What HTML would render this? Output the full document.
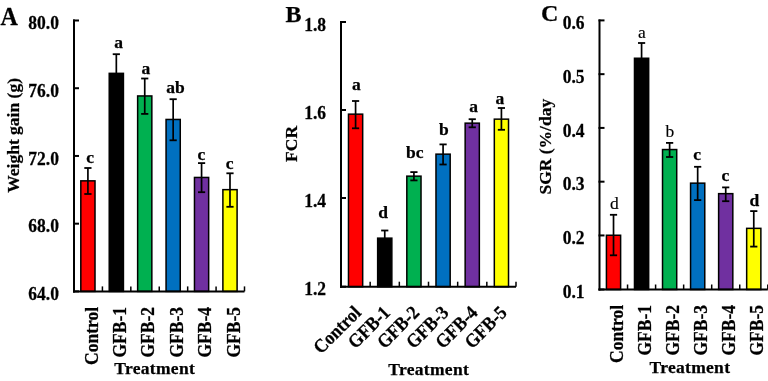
<!DOCTYPE html>
<html><head><meta charset="utf-8"><style>
html,body{margin:0;padding:0;background:#fff;width:768px;height:381px;overflow:hidden}
svg{display:block;will-change:transform}
text{font-family:"Liberation Serif",serif;fill:#000}
</style></head><body>
<svg width="768" height="381" viewBox="0 0 768 381">
<rect x="80.81" y="180.85" width="14.20" height="110.55" fill="#ff0000" stroke="#000" stroke-width="1.5"/>
<line x1="87.91" y1="168.00" x2="87.91" y2="194.00" stroke="#000" stroke-width="1.7"/>
<line x1="84.31" y1="168.00" x2="91.51" y2="168.00" stroke="#000" stroke-width="1.8"/>
<line x1="84.31" y1="194.00" x2="91.51" y2="194.00" stroke="#000" stroke-width="1.8"/>
<text transform="translate(90.20 162.60)" font-size="17.5" text-anchor="middle" font-weight="bold" stroke="#000" stroke-width="0.25">c</text>
<rect x="109.23" y="73.35" width="14.20" height="218.05" fill="#000000" stroke="#000" stroke-width="1.5"/>
<line x1="116.33" y1="54.20" x2="116.33" y2="92.80" stroke="#000" stroke-width="1.7"/>
<line x1="112.73" y1="54.20" x2="119.92" y2="54.20" stroke="#000" stroke-width="1.8"/>
<line x1="112.73" y1="92.80" x2="119.92" y2="92.80" stroke="#000" stroke-width="1.8"/>
<text transform="translate(118.50 47.90)" font-size="17.5" text-anchor="middle" font-weight="bold" stroke="#000" stroke-width="0.25">a</text>
<rect x="137.64" y="95.95" width="14.20" height="195.45" fill="#00b050" stroke="#000" stroke-width="1.5"/>
<line x1="144.74" y1="78.50" x2="144.74" y2="113.90" stroke="#000" stroke-width="1.7"/>
<line x1="141.14" y1="78.50" x2="148.34" y2="78.50" stroke="#000" stroke-width="1.8"/>
<line x1="141.14" y1="113.90" x2="148.34" y2="113.90" stroke="#000" stroke-width="1.8"/>
<text transform="translate(145.90 74.20)" font-size="17.5" text-anchor="middle" font-weight="bold" stroke="#000" stroke-width="0.25">a</text>
<rect x="166.06" y="119.45" width="14.20" height="171.95" fill="#0070c0" stroke="#000" stroke-width="1.5"/>
<line x1="173.16" y1="99.20" x2="173.16" y2="140.30" stroke="#000" stroke-width="1.7"/>
<line x1="169.56" y1="99.20" x2="176.76" y2="99.20" stroke="#000" stroke-width="1.8"/>
<line x1="169.56" y1="140.30" x2="176.76" y2="140.30" stroke="#000" stroke-width="1.8"/>
<text transform="translate(175.50 92.50)" font-size="17.5" text-anchor="middle" font-weight="bold" stroke="#000" stroke-width="0.25">ab</text>
<rect x="194.47" y="177.45" width="14.20" height="113.95" fill="#7030a0" stroke="#000" stroke-width="1.5"/>
<line x1="201.57" y1="163.10" x2="201.57" y2="192.20" stroke="#000" stroke-width="1.7"/>
<line x1="197.97" y1="163.10" x2="205.17" y2="163.10" stroke="#000" stroke-width="1.8"/>
<line x1="197.97" y1="192.20" x2="205.17" y2="192.20" stroke="#000" stroke-width="1.8"/>
<text transform="translate(201.30 160.10)" font-size="17.5" text-anchor="middle" font-weight="bold" stroke="#000" stroke-width="0.25">c</text>
<rect x="222.89" y="189.65" width="14.20" height="101.75" fill="#ffff00" stroke="#000" stroke-width="1.5"/>
<line x1="229.99" y1="173.30" x2="229.99" y2="206.80" stroke="#000" stroke-width="1.7"/>
<line x1="226.39" y1="173.30" x2="233.59" y2="173.30" stroke="#000" stroke-width="1.8"/>
<line x1="226.39" y1="206.80" x2="233.59" y2="206.80" stroke="#000" stroke-width="1.8"/>
<text transform="translate(229.70 169.10)" font-size="17.5" text-anchor="middle" font-weight="bold" stroke="#000" stroke-width="0.25">c</text>
<line x1="74.00" y1="19.50" x2="74.00" y2="292.40" stroke="#000" stroke-width="2"/>
<line x1="73.00" y1="291.40" x2="244.50" y2="291.40" stroke="#000" stroke-width="2"/>
<line x1="73.00" y1="20.50" x2="79.00" y2="20.50" stroke="#000" stroke-width="2"/>
<text transform="translate(58.90 29.20) scale(1.0 1.03)" font-size="17.5" text-anchor="end" font-weight="bold" stroke="#000" stroke-width="0.25">80.0</text>
<line x1="73.00" y1="88.22" x2="79.00" y2="88.22" stroke="#000" stroke-width="2"/>
<text transform="translate(58.90 96.92) scale(1.0 1.03)" font-size="17.5" text-anchor="end" font-weight="bold" stroke="#000" stroke-width="0.25">76.0</text>
<line x1="73.00" y1="155.95" x2="79.00" y2="155.95" stroke="#000" stroke-width="2"/>
<text transform="translate(58.90 164.65) scale(1.0 1.03)" font-size="17.5" text-anchor="end" font-weight="bold" stroke="#000" stroke-width="0.25">72.0</text>
<line x1="73.00" y1="223.67" x2="79.00" y2="223.67" stroke="#000" stroke-width="2"/>
<text transform="translate(58.90 232.37) scale(1.0 1.03)" font-size="17.5" text-anchor="end" font-weight="bold" stroke="#000" stroke-width="0.25">68.0</text>
<line x1="73.00" y1="291.40" x2="79.00" y2="291.40" stroke="#000" stroke-width="2"/>
<text transform="translate(58.90 300.10) scale(1.0 1.03)" font-size="17.5" text-anchor="end" font-weight="bold" stroke="#000" stroke-width="0.25">64.0</text>
<line x1="102.42" y1="291.40" x2="102.42" y2="286.40" stroke="#000" stroke-width="1.5"/>
<line x1="130.83" y1="291.40" x2="130.83" y2="286.40" stroke="#000" stroke-width="1.5"/>
<line x1="159.25" y1="291.40" x2="159.25" y2="286.40" stroke="#000" stroke-width="1.5"/>
<line x1="187.67" y1="291.40" x2="187.67" y2="286.40" stroke="#000" stroke-width="1.5"/>
<line x1="216.08" y1="291.40" x2="216.08" y2="286.40" stroke="#000" stroke-width="1.5"/>
<line x1="244.50" y1="291.40" x2="244.50" y2="286.40" stroke="#000" stroke-width="1.5"/>
<text transform="translate(0.50 24.80) scale(1.0 1.05)" font-size="24" text-anchor="start" font-weight="bold" stroke="#000" stroke-width="0.25">A</text>
<text transform="translate(19.00 135.40) rotate(-90)" font-size="17.5" text-anchor="middle" font-weight="bold" stroke="#000" stroke-width="0.25">Weight gain (g)</text>
<text transform="translate(97.51 307.00) rotate(-90) scale(1.0 1.1)" font-size="17.5" text-anchor="end" font-weight="bold" stroke="#000" stroke-width="0.25">Control</text>
<text transform="translate(125.92 307.00) rotate(-90) scale(1.0 1.1)" font-size="17.5" text-anchor="end" font-weight="bold" stroke="#000" stroke-width="0.25">GFB-1</text>
<text transform="translate(154.34 307.00) rotate(-90) scale(1.0 1.1)" font-size="17.5" text-anchor="end" font-weight="bold" stroke="#000" stroke-width="0.25">GFB-2</text>
<text transform="translate(182.76 307.00) rotate(-90) scale(1.0 1.1)" font-size="17.5" text-anchor="end" font-weight="bold" stroke="#000" stroke-width="0.25">GFB-3</text>
<text transform="translate(211.18 307.00) rotate(-90) scale(1.0 1.1)" font-size="17.5" text-anchor="end" font-weight="bold" stroke="#000" stroke-width="0.25">GFB-4</text>
<text transform="translate(239.59 307.00) rotate(-90) scale(1.0 1.1)" font-size="17.5" text-anchor="end" font-weight="bold" stroke="#000" stroke-width="0.25">GFB-5</text>
<text transform="translate(154.70 374.10)" font-size="17.5" text-anchor="middle" font-weight="bold" stroke="#000" stroke-width="0.25" letter-spacing="0.3">Treatment</text>
<rect x="348.48" y="114.15" width="14.20" height="172.55" fill="#ff0000" stroke="#000" stroke-width="1.5"/>
<line x1="355.58" y1="101.00" x2="355.58" y2="128.30" stroke="#000" stroke-width="1.7"/>
<line x1="351.98" y1="101.00" x2="359.18" y2="101.00" stroke="#000" stroke-width="1.8"/>
<line x1="351.98" y1="128.30" x2="359.18" y2="128.30" stroke="#000" stroke-width="1.8"/>
<text transform="translate(356.30 89.60)" font-size="17.5" text-anchor="middle" font-weight="bold" stroke="#000" stroke-width="0.25">a</text>
<rect x="377.65" y="238.15" width="14.20" height="48.55" fill="#000000" stroke="#000" stroke-width="1.5"/>
<line x1="384.75" y1="230.50" x2="384.75" y2="246.10" stroke="#000" stroke-width="1.7"/>
<line x1="381.15" y1="230.50" x2="388.35" y2="230.50" stroke="#000" stroke-width="1.8"/>
<line x1="381.15" y1="246.10" x2="388.35" y2="246.10" stroke="#000" stroke-width="1.8"/>
<text transform="translate(383.00 217.70)" font-size="17.5" text-anchor="middle" font-weight="bold" stroke="#000" stroke-width="0.25">d</text>
<rect x="406.82" y="176.15" width="14.20" height="110.55" fill="#00b050" stroke="#000" stroke-width="1.5"/>
<line x1="413.92" y1="172.10" x2="413.92" y2="180.40" stroke="#000" stroke-width="1.7"/>
<line x1="410.32" y1="172.10" x2="417.52" y2="172.10" stroke="#000" stroke-width="1.8"/>
<line x1="410.32" y1="180.40" x2="417.52" y2="180.40" stroke="#000" stroke-width="1.8"/>
<text transform="translate(414.80 158.00)" font-size="17.5" text-anchor="middle" font-weight="bold" stroke="#000" stroke-width="0.25">bc</text>
<rect x="435.98" y="154.15" width="14.20" height="132.55" fill="#0070c0" stroke="#000" stroke-width="1.5"/>
<line x1="443.08" y1="144.40" x2="443.08" y2="164.50" stroke="#000" stroke-width="1.7"/>
<line x1="439.48" y1="144.40" x2="446.68" y2="144.40" stroke="#000" stroke-width="1.8"/>
<line x1="439.48" y1="164.50" x2="446.68" y2="164.50" stroke="#000" stroke-width="1.8"/>
<text transform="translate(443.80 135.20)" font-size="17.5" text-anchor="middle" font-weight="bold" stroke="#000" stroke-width="0.25">b</text>
<rect x="465.15" y="123.15" width="14.20" height="163.55" fill="#7030a0" stroke="#000" stroke-width="1.5"/>
<line x1="472.25" y1="119.20" x2="472.25" y2="127.30" stroke="#000" stroke-width="1.7"/>
<line x1="468.65" y1="119.20" x2="475.85" y2="119.20" stroke="#000" stroke-width="1.8"/>
<line x1="468.65" y1="127.30" x2="475.85" y2="127.30" stroke="#000" stroke-width="1.8"/>
<text transform="translate(473.50 111.70)" font-size="17.5" text-anchor="middle" font-weight="bold" stroke="#000" stroke-width="0.25">a</text>
<rect x="494.32" y="119.15" width="14.20" height="167.55" fill="#ffff00" stroke="#000" stroke-width="1.5"/>
<line x1="501.42" y1="108.00" x2="501.42" y2="129.80" stroke="#000" stroke-width="1.7"/>
<line x1="497.82" y1="108.00" x2="505.02" y2="108.00" stroke="#000" stroke-width="1.8"/>
<line x1="497.82" y1="129.80" x2="505.02" y2="129.80" stroke="#000" stroke-width="1.8"/>
<text transform="translate(499.90 104.00)" font-size="17.5" text-anchor="middle" font-weight="bold" stroke="#000" stroke-width="0.25">a</text>
<line x1="341.00" y1="21.00" x2="341.00" y2="287.70" stroke="#000" stroke-width="2"/>
<line x1="340.00" y1="286.70" x2="516.00" y2="286.70" stroke="#000" stroke-width="2"/>
<line x1="340.00" y1="22.00" x2="346.00" y2="22.00" stroke="#000" stroke-width="2"/>
<text transform="translate(326.00 30.70) scale(1.0 1.03)" font-size="17.5" text-anchor="end" font-weight="bold" stroke="#000" stroke-width="0.25">1.8</text>
<line x1="340.00" y1="110.00" x2="346.00" y2="110.00" stroke="#000" stroke-width="2"/>
<text transform="translate(326.00 118.70) scale(1.0 1.03)" font-size="17.5" text-anchor="end" font-weight="bold" stroke="#000" stroke-width="0.25">1.6</text>
<line x1="340.00" y1="198.00" x2="346.00" y2="198.00" stroke="#000" stroke-width="2"/>
<text transform="translate(326.00 206.70) scale(1.0 1.03)" font-size="17.5" text-anchor="end" font-weight="bold" stroke="#000" stroke-width="0.25">1.4</text>
<line x1="340.00" y1="286.70" x2="346.00" y2="286.70" stroke="#000" stroke-width="2"/>
<text transform="translate(326.00 295.40) scale(1.0 1.03)" font-size="17.5" text-anchor="end" font-weight="bold" stroke="#000" stroke-width="0.25">1.2</text>
<line x1="370.17" y1="286.70" x2="370.17" y2="281.70" stroke="#000" stroke-width="1.5"/>
<line x1="399.33" y1="286.70" x2="399.33" y2="281.70" stroke="#000" stroke-width="1.5"/>
<line x1="428.50" y1="286.70" x2="428.50" y2="281.70" stroke="#000" stroke-width="1.5"/>
<line x1="457.67" y1="286.70" x2="457.67" y2="281.70" stroke="#000" stroke-width="1.5"/>
<line x1="486.83" y1="286.70" x2="486.83" y2="281.70" stroke="#000" stroke-width="1.5"/>
<line x1="516.00" y1="286.70" x2="516.00" y2="281.70" stroke="#000" stroke-width="1.5"/>
<text transform="translate(285.50 22.40)" font-size="24" text-anchor="start" font-weight="bold" stroke="#000" stroke-width="0.25">B</text>
<text transform="translate(297.00 143.90) rotate(-90)" font-size="17.5" text-anchor="middle" font-weight="bold" stroke="#000" stroke-width="0.25">FCR</text>
<text transform="translate(362.08 313.80) rotate(-45) scale(1.0 1.1)" font-size="17.5" text-anchor="end" font-weight="bold" stroke="#000" stroke-width="0.25">Control</text>
<text transform="translate(391.25 313.80) rotate(-45) scale(1.0 1.1)" font-size="17.5" text-anchor="end" font-weight="bold" stroke="#000" stroke-width="0.25">GFB-1</text>
<text transform="translate(420.42 313.80) rotate(-45) scale(1.0 1.1)" font-size="17.5" text-anchor="end" font-weight="bold" stroke="#000" stroke-width="0.25">GFB-2</text>
<text transform="translate(449.58 313.80) rotate(-45) scale(1.0 1.1)" font-size="17.5" text-anchor="end" font-weight="bold" stroke="#000" stroke-width="0.25">GFB-3</text>
<text transform="translate(478.75 313.80) rotate(-45) scale(1.0 1.1)" font-size="17.5" text-anchor="end" font-weight="bold" stroke="#000" stroke-width="0.25">GFB-4</text>
<text transform="translate(507.92 313.80) rotate(-45) scale(1.0 1.1)" font-size="17.5" text-anchor="end" font-weight="bold" stroke="#000" stroke-width="0.25">GFB-5</text>
<text transform="translate(428.70 375.30)" font-size="17.5" text-anchor="middle" font-weight="bold" stroke="#000" stroke-width="0.25" letter-spacing="0.3">Treatment</text>
<rect x="606.42" y="235.25" width="14.20" height="54.25" fill="#ff0000" stroke="#000" stroke-width="1.5"/>
<line x1="613.52" y1="214.80" x2="613.52" y2="255.30" stroke="#000" stroke-width="1.7"/>
<line x1="609.92" y1="214.80" x2="617.12" y2="214.80" stroke="#000" stroke-width="1.8"/>
<line x1="609.92" y1="255.30" x2="617.12" y2="255.30" stroke="#000" stroke-width="1.8"/>
<text transform="translate(614.30 208.50)" font-size="17.5" text-anchor="middle" stroke="#000" stroke-width="0.15">d</text>
<rect x="634.48" y="58.25" width="14.20" height="231.25" fill="#000000" stroke="#000" stroke-width="1.5"/>
<line x1="641.58" y1="43.00" x2="641.58" y2="73.80" stroke="#000" stroke-width="1.7"/>
<line x1="637.98" y1="43.00" x2="645.18" y2="43.00" stroke="#000" stroke-width="1.8"/>
<line x1="637.98" y1="73.80" x2="645.18" y2="73.80" stroke="#000" stroke-width="1.8"/>
<text transform="translate(642.00 37.60)" font-size="17.5" text-anchor="middle" stroke="#000" stroke-width="0.15">a</text>
<rect x="662.52" y="149.55" width="14.20" height="139.95" fill="#00b050" stroke="#000" stroke-width="1.5"/>
<line x1="669.62" y1="142.90" x2="669.62" y2="157.00" stroke="#000" stroke-width="1.7"/>
<line x1="666.02" y1="142.90" x2="673.23" y2="142.90" stroke="#000" stroke-width="1.8"/>
<line x1="666.02" y1="157.00" x2="673.23" y2="157.00" stroke="#000" stroke-width="1.8"/>
<text transform="translate(669.80 136.50)" font-size="17.5" text-anchor="middle" stroke="#000" stroke-width="0.15">b</text>
<rect x="690.57" y="183.15" width="14.20" height="106.35" fill="#0070c0" stroke="#000" stroke-width="1.5"/>
<line x1="697.67" y1="166.80" x2="697.67" y2="200.10" stroke="#000" stroke-width="1.7"/>
<line x1="694.07" y1="166.80" x2="701.27" y2="166.80" stroke="#000" stroke-width="1.8"/>
<line x1="694.07" y1="200.10" x2="701.27" y2="200.10" stroke="#000" stroke-width="1.8"/>
<text transform="translate(697.20 160.30)" font-size="17.5" text-anchor="middle" font-weight="bold" stroke="#000" stroke-width="0.25">c</text>
<rect x="718.62" y="193.65" width="14.20" height="95.85" fill="#7030a0" stroke="#000" stroke-width="1.5"/>
<line x1="725.72" y1="187.40" x2="725.72" y2="201.20" stroke="#000" stroke-width="1.7"/>
<line x1="722.12" y1="187.40" x2="729.32" y2="187.40" stroke="#000" stroke-width="1.8"/>
<line x1="722.12" y1="201.20" x2="729.32" y2="201.20" stroke="#000" stroke-width="1.8"/>
<text transform="translate(725.50 180.60)" font-size="17.5" text-anchor="middle" font-weight="bold" stroke="#000" stroke-width="0.25">c</text>
<rect x="746.67" y="228.35" width="14.20" height="61.15" fill="#ffff00" stroke="#000" stroke-width="1.5"/>
<line x1="753.77" y1="211.10" x2="753.77" y2="246.60" stroke="#000" stroke-width="1.7"/>
<line x1="750.17" y1="211.10" x2="757.38" y2="211.10" stroke="#000" stroke-width="1.8"/>
<line x1="750.17" y1="246.60" x2="757.38" y2="246.60" stroke="#000" stroke-width="1.8"/>
<text transform="translate(754.30 206.00)" font-size="17.5" text-anchor="middle" font-weight="bold" stroke="#000" stroke-width="0.25">d</text>
<line x1="599.50" y1="19.40" x2="599.50" y2="290.50" stroke="#000" stroke-width="2"/>
<line x1="598.50" y1="289.50" x2="767.80" y2="289.50" stroke="#000" stroke-width="2"/>
<line x1="598.50" y1="20.40" x2="604.50" y2="20.40" stroke="#000" stroke-width="2"/>
<text transform="translate(584.50 29.00) scale(1.0 1.03)" font-size="17.5" text-anchor="end" font-weight="bold" stroke="#000" stroke-width="0.25">0.6</text>
<line x1="598.50" y1="74.16" x2="604.50" y2="74.16" stroke="#000" stroke-width="2"/>
<text transform="translate(584.50 82.76) scale(1.0 1.03)" font-size="17.5" text-anchor="end" font-weight="bold" stroke="#000" stroke-width="0.25">0.5</text>
<line x1="598.50" y1="127.92" x2="604.50" y2="127.92" stroke="#000" stroke-width="2"/>
<text transform="translate(584.50 136.52) scale(1.0 1.03)" font-size="17.5" text-anchor="end" font-weight="bold" stroke="#000" stroke-width="0.25">0.4</text>
<line x1="598.50" y1="181.68" x2="604.50" y2="181.68" stroke="#000" stroke-width="2"/>
<text transform="translate(584.50 190.28) scale(1.0 1.03)" font-size="17.5" text-anchor="end" font-weight="bold" stroke="#000" stroke-width="0.25">0.3</text>
<line x1="598.50" y1="235.44" x2="604.50" y2="235.44" stroke="#000" stroke-width="2"/>
<text transform="translate(584.50 244.04) scale(1.0 1.03)" font-size="17.5" text-anchor="end" font-weight="bold" stroke="#000" stroke-width="0.25">0.2</text>
<line x1="598.50" y1="289.50" x2="604.50" y2="289.50" stroke="#000" stroke-width="2"/>
<text transform="translate(584.50 298.10) scale(1.0 1.03)" font-size="17.5" text-anchor="end" font-weight="bold" stroke="#000" stroke-width="0.25">0.1</text>
<line x1="627.55" y1="289.50" x2="627.55" y2="284.50" stroke="#000" stroke-width="1.5"/>
<line x1="655.60" y1="289.50" x2="655.60" y2="284.50" stroke="#000" stroke-width="1.5"/>
<line x1="683.65" y1="289.50" x2="683.65" y2="284.50" stroke="#000" stroke-width="1.5"/>
<line x1="711.70" y1="289.50" x2="711.70" y2="284.50" stroke="#000" stroke-width="1.5"/>
<line x1="739.75" y1="289.50" x2="739.75" y2="284.50" stroke="#000" stroke-width="1.5"/>
<line x1="767.80" y1="289.50" x2="767.80" y2="284.50" stroke="#000" stroke-width="1.5"/>
<text transform="translate(541.00 20.60)" font-size="24" text-anchor="start" font-weight="bold" stroke="#000" stroke-width="0.25">C</text>
<text transform="translate(550.50 146.70) rotate(-90)" font-size="17.5" text-anchor="middle" font-weight="bold" stroke="#000" stroke-width="0.25">SGR (%/day</text>
<text transform="translate(622.52 305.00) rotate(-90) scale(1.0 1.1)" font-size="17.5" text-anchor="end" font-weight="bold" stroke="#000" stroke-width="0.25">Control</text>
<text transform="translate(650.58 305.00) rotate(-90) scale(1.0 1.1)" font-size="17.5" text-anchor="end" font-weight="bold" stroke="#000" stroke-width="0.25">GFB-1</text>
<text transform="translate(678.62 305.00) rotate(-90) scale(1.0 1.1)" font-size="17.5" text-anchor="end" font-weight="bold" stroke="#000" stroke-width="0.25">GFB-2</text>
<text transform="translate(706.67 305.00) rotate(-90) scale(1.0 1.1)" font-size="17.5" text-anchor="end" font-weight="bold" stroke="#000" stroke-width="0.25">GFB-3</text>
<text transform="translate(734.72 305.00) rotate(-90) scale(1.0 1.1)" font-size="17.5" text-anchor="end" font-weight="bold" stroke="#000" stroke-width="0.25">GFB-4</text>
<text transform="translate(762.77 305.00) rotate(-90) scale(1.0 1.1)" font-size="17.5" text-anchor="end" font-weight="bold" stroke="#000" stroke-width="0.25">GFB-5</text>
<text transform="translate(689.90 373.20)" font-size="17.5" text-anchor="middle" font-weight="bold" stroke="#000" stroke-width="0.25" letter-spacing="0.3">Treatment</text>
</svg>
</body></html>
